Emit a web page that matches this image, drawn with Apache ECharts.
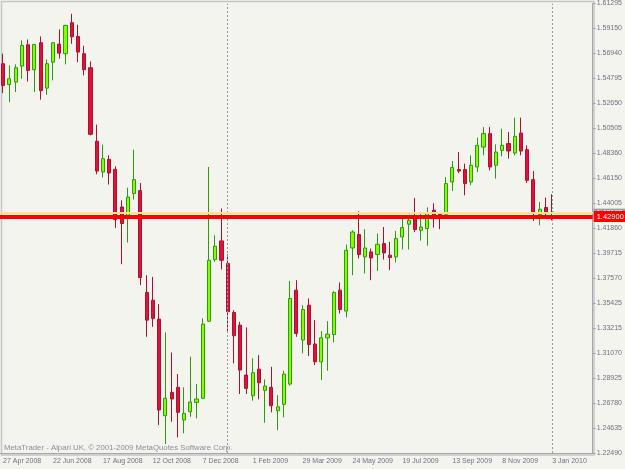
<!DOCTYPE html>
<html><head><meta charset="utf-8">
<script src="https://cdn.jsdelivr.net/npm/echarts@6/dist/echarts.min.js"></script>
<style>html,body{margin:0;padding:0;background:#f4f4ef}#c{width:625px;height:469px}</style>
</head><body><div id="c"></div><script>
// weekly EUR/USD candles, week starting 27 Apr 2008
const firstWeekUTC = Date.UTC(2008, 3, 27);
const weekSlots = 95;            // 89 candles + empty space at the right
const monthNames = ['Jan','Feb','Mar','Apr','May','Jun','Jul','Aug','Sep','Oct','Nov','Dec'];

const opens = [1.5610,1.5429,1.5451,1.5589,1.5773,1.5558,1.5791,1.5399,1.5623,1.5779,
1.5696,1.5963,1.5845,1.5696,1.5575,1.4940,1.4675,1.4784,1.4698,1.4373,
1.4293,1.4489,1.4514,1.3635,1.3568,1.3405,1.2571,1.2773,1.2816,1.2534,
1.2605,1.2686,1.2721,1.3387,1.3919,1.4080,1.3885,1.3462,1.3353,1.2922,
1.2743,1.2973,1.2790,1.2816,1.2614,1.2669,1.2844,1.3655,1.3224,1.3525,
1.3190,1.3036,1.3243,1.3272,1.3655,1.3474,1.4019,1.4135,1.3942,1.3985,
1.3963,1.4057,1.3957,1.3942,1.4114,1.4224,1.4273,1.4172,1.4187,1.4345,
1.4310,1.4310,1.4589,1.4696,1.4696,1.4589,1.4718,1.4890,1.5006,1.4733,
1.4862,1.4920,1.4839,1.5011,1.4868,1.4609,1.4307,1.4368,1.4330];
const closes = [1.5422,1.5480,1.5575,1.5767,1.5552,1.5776,1.5377,1.5610,1.5791,1.5701,
1.5940,1.5842,1.5710,1.5558,1.5000,1.4683,1.4790,1.4666,1.4264,1.4230,
1.4459,1.4609,1.3764,1.3396,1.3411,1.2620,1.2721,1.2715,1.2600,1.2591,
1.2689,1.2715,1.3362,1.3913,1.4034,1.3913,1.3468,1.3261,1.2965,1.2807,
1.2942,1.2855,1.2827,1.2657,1.2648,1.2930,1.3583,1.3281,1.3488,1.3186,
1.3036,1.3243,1.3275,1.3635,1.3488,1.3999,1.4157,1.3963,1.4019,1.3933,
1.4051,1.3976,1.3937,1.4100,1.4195,1.4258,1.4178,1.4200,1.4323,1.4297,
1.4293,1.4575,1.4713,1.4683,1.4575,1.4733,1.4905,1.5006,1.4718,1.4847,
1.4905,1.4856,1.4983,1.4856,1.4603,1.4330,1.4353,1.4325,1.4321];
const lows = [1.5356,1.5278,1.5365,1.5480,1.5457,1.5365,1.5299,1.5342,1.5466,1.5653,
1.5604,1.5782,1.5623,1.5509,1.4991,1.4655,1.4627,1.4566,1.4192,1.3879,
1.4066,1.4437,1.3698,1.3252,1.3338,1.2491,1.2327,1.2519,1.2384,1.2419,
1.2562,1.2548,1.2715,1.3380,1.3899,1.3833,1.3295,1.3023,1.2758,1.2758,
1.2700,1.2712,1.2510,1.2600,1.2447,1.2557,1.2830,1.3252,1.3109,1.3086,
1.3008,1.2879,1.2959,1.3204,1.3454,1.3419,1.3784,1.3928,1.3799,1.3741,
1.3821,1.3919,1.3827,1.3894,1.4006,1.4006,1.4155,1.4082,1.4038,1.4194,
1.4181,1.4305,1.4511,1.4665,1.4474,1.4560,1.4675,1.4819,1.4689,1.4618,
1.4810,1.4790,1.4819,1.4819,1.4580,1.4252,1.4215,1.4273,1.4258];
const highs = [1.5696,1.5595,1.5604,1.5811,1.5819,1.5778,1.5845,1.5647,1.5795,1.5905,
1.5946,1.6041,1.5946,1.5765,1.5629,1.5084,1.4911,1.4819,1.4724,1.4431,
1.4540,1.4868,1.4580,1.3784,1.3769,1.3534,1.3290,1.3117,1.2930,1.2816,
1.3080,1.2844,1.3411,1.4718,1.4129,1.4359,1.3965,1.3482,1.3381,1.3333,
1.3066,1.3094,1.2885,1.2993,1.2749,1.2959,1.3735,1.3741,1.3525,1.3583,
1.3396,1.3301,1.3387,1.3646,1.3721,1.4049,1.4172,1.4336,1.4181,1.4014,
1.4144,1.4200,1.4071,1.4166,1.4293,1.4301,1.4452,1.4330,1.4370,1.4405,
1.4327,1.4632,1.4770,1.4847,1.4747,1.4819,1.4971,1.5063,1.5063,1.4914,
1.5049,1.5020,1.5144,1.5144,1.4905,1.4683,1.4416,1.4454,1.4483];

const yTickLabels = ['1.22490','1.24635','1.26780','1.28925','1.31070','1.33215','1.35425',
'1.37570','1.39715','1.41860','1.44005','1.46150','1.48360','1.50505','1.52650','1.54795',
'1.56940','1.59150','1.61295'];
const priceMin = 1.22490, priceMax = 1.61295;
const levelLine = 1.42900;   // thick red horizontal line
const bidLine = 1.43197;     // current bid
const separators = ['4 Jan 2009', '3 Jan 2010'];
const copyright = 'MetaTrader - Alpari UK, \u00a9 2001-2009 MetaQuotes Software Corp.';

const categories = [];
for (let i = 0; i < weekSlots; i++) {
  const d = new Date(firstWeekUTC + i * 7 * 86400000);
  categories.push(d.getUTCDate() + ' ' + monthNames[d.getUTCMonth()] + ' ' + d.getUTCFullYear());
}
const candles = opens.map((o, i) => [o, closes[i], lows[i], highs[i]]);

const FONT = "'Liberation Sans', Arial, sans-serif";
const TXT = '#6f6f80';
const AX = '#a6a6ae';

const chart = echarts.init(document.getElementById('c'), null, {renderer: 'canvas'});
chart.setOption({
  backgroundColor: '#f4f4ef',
  animation: false,
  title: {text: copyright, left: 4, top: 444, padding: 0,
    textStyle: {fontSize: 7.8, fontWeight: 'normal', color: '#8c8c9a', fontFamily: FONT}},
  grid: {left: -0.63, right: 31, top: 3, bottom: 16},
  graphic: [{type: 'rect', silent: true, shape: {x: 1.5, y: 1.5, width: 592.5, height: 453.5},
    style: {fill: null, stroke: '#c4c4c4', lineWidth: 1.5}}],
  xAxis: {type: 'category', data: categories, boundaryGap: true, offset: 2,
    axisLine: {lineStyle: {color: AX}},
    axisTick: {alignWithLabel: true, interval: 7, length: 3, lineStyle: {color: AX}},
    axisLabel: {interval: 7, align: 'left', margin: 3, fontSize: 7, color: TXT, fontFamily: FONT},
    splitLine: {show: false}},
  yAxis: [
    {type: 'value', min: priceMin, max: priceMax, position: 'right', show: false, scale: true},
    {type: 'value', min: 0, max: yTickLabels.length - 1, interval: 1, position: 'right',
      axisLine: {show: true, lineStyle: {color: AX}},
      axisTick: {show: true, length: 3, lineStyle: {color: AX}},
      axisLabel: {margin: 4, fontSize: 7, color: TXT, fontFamily: FONT,
        formatter: v => yTickLabels[Math.round(v)]},
      splitLine: {show: false}}
  ],
  series: [{
    type: 'candlestick', yAxisIndex: 0, data: candles, barWidth: 3.6,
    itemStyle: {color: '#7fff00', color0: '#dc143c', borderColor: '#2f9a0a', borderColor0: '#b0102e', borderWidth: 1},
    markLine: {silent: true, symbol: ['none', 'none'], animation: false, precision: 5,
      data: [
        {xAxis: separators[0], lineStyle: {type: [2, 2], color: '#9a98aa', width: 1}, label: {show: false}},
        {xAxis: separators[1], lineStyle: {type: [2, 2], color: '#9a98aa', width: 1}, label: {show: false}},
        {yAxis: bidLine, lineStyle: {type: 'solid', color: '#ffe48c', width: 2},
          label: {show: true, position: 'end', distance: 1, formatter: bidLine.toFixed(5),
            backgroundColor: '#9c9ca4', color: '#ffffff', fontSize: 7, fontFamily: FONT, padding: [1, 3]}},
        {yAxis: levelLine, lineStyle: {type: 'solid', color: '#ff0000', width: 4},
          label: {show: true, position: 'end', distance: 1, formatter: levelLine.toFixed(5),
            backgroundColor: '#ff0000', color: '#ffffff', fontSize: 7.5, fontFamily: FONT, padding: [1.5, 3]}}
      ]}
  }]
});
</script></body></html>
